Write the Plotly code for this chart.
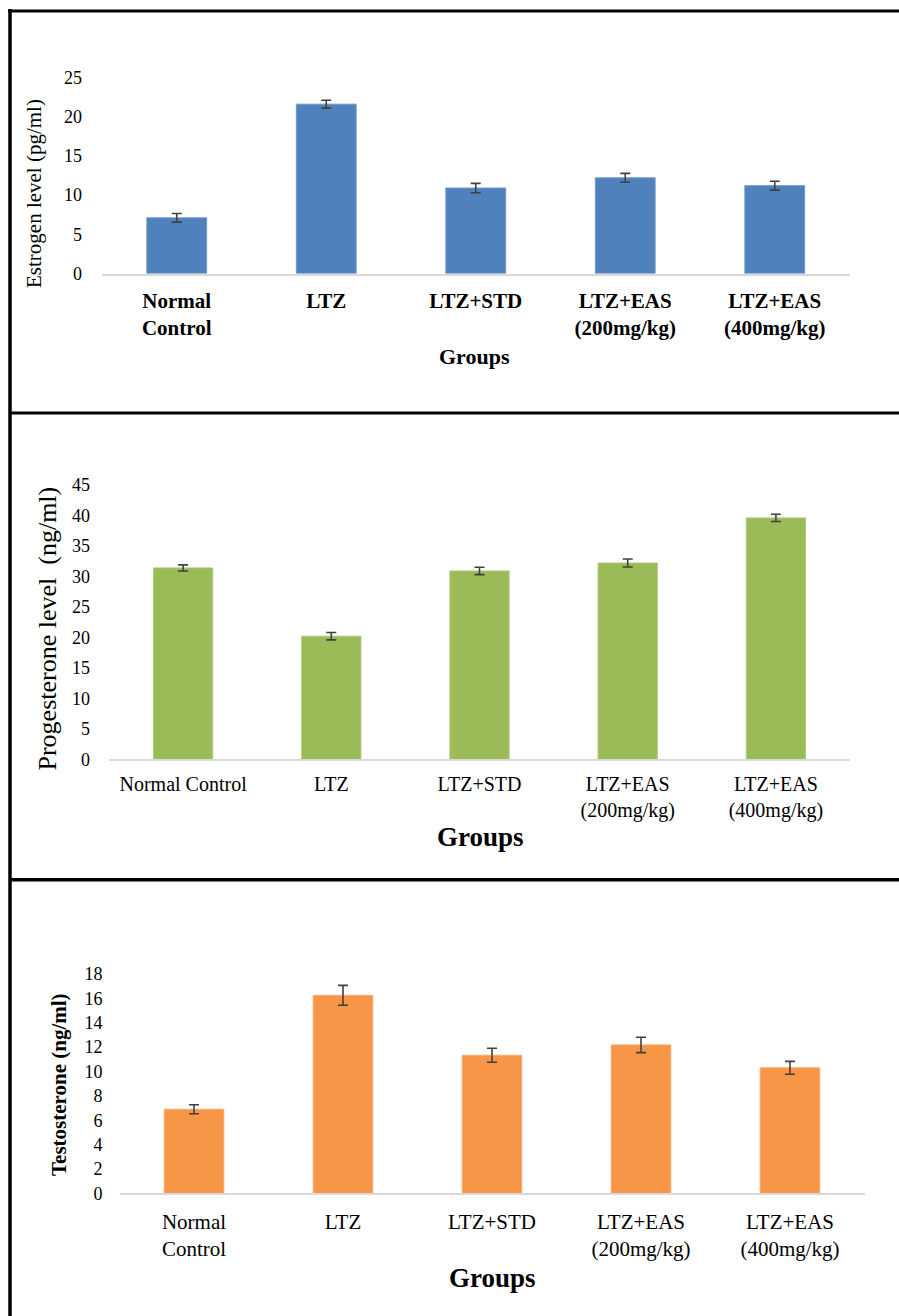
import plotly.graph_objects as go
from plotly.subplots import make_subplots

W, H = 899, 1316

groups_e = ["<b>Normal</b><br><b>Control</b>", "<b>LTZ</b>", "<b>LTZ+STD</b>",
            "<b>LTZ+EAS</b><br><b>(200mg/kg)</b>", "<b>LTZ+EAS</b><br><b>(400mg/kg)</b>"]
groups_p = ["Normal Control", "LTZ", "LTZ+STD", "LTZ+EAS<br>(200mg/kg)", "LTZ+EAS<br>(400mg/kg)"]
groups_t = ["Normal<br>Control", "LTZ", "LTZ+STD", "LTZ+EAS<br>(200mg/kg)", "LTZ+EAS<br>(400mg/kg)"]

estrogen = [7.1, 21.6, 10.9, 12.2, 11.2]
estrogen_err = [0.55, 0.5, 0.6, 0.57, 0.57]
progesterone = [31.4, 20.2, 30.9, 32.2, 39.6]
progesterone_err = [0.5, 0.6, 0.6, 0.65, 0.6]
testosterone = [6.9, 16.25, 11.33, 12.18, 10.3]
testosterone_err = [0.37, 0.82, 0.57, 0.63, 0.53]

FONT = "Liberation Serif"
ERRC = "#404040"

fig = make_subplots(rows=3, cols=1)

def add_bar(x, y, err, color, edge, row):
    fig.add_trace(go.Bar(
        x=x, y=y, width=0.4, marker=dict(color=color, line=dict(width=1, color=edge)),
        error_y=dict(type="data", array=err, visible=True, color=ERRC, thickness=1.6, width=5),
        showlegend=False), row=row, col=1)

add_bar(groups_e, estrogen, estrogen_err, "#4F81BD", "#6F97C9", 1)
add_bar(groups_p, progesterone, progesterone_err, "#9BBB59", "#AFC97A", 2)
add_bar(groups_t, testosterone, testosterone_err, "#F79646", "#F9AC6E", 3)

def px_dom(a, b, total):
    return [a / total, b / total]

def py_dom(top, bottom):
    return [1 - bottom / H, 1 - top / H]

xcommon = dict(type="category", range=[-0.5, 4.5], showgrid=False, zeroline=False,
               showline=True, linecolor="#D9D9D9", linewidth=2, ticks="", automargin=False)
ycommon = dict(showgrid=False, zeroline=False, showline=False, ticks="", automargin=False)

fig.update_layout(
    xaxis=dict(xcommon, domain=px_dom(102, 849.5, W),
               tickfont=dict(family=FONT, size=21, color="black"), ticklabelstandoff=7),
    yaxis=dict(ycommon, domain=py_dom(77.5, 273.5), range=[0, 25], dtick=5,
               tickfont=dict(family=FONT, size=18, color="black"), ticklabelstandoff=19),
    xaxis2=dict(xcommon, domain=px_dom(109, 850, W),
                tickfont=dict(family=FONT, size=20, color="black"), ticklabelstandoff=6),
    yaxis2=dict(ycommon, domain=py_dom(485, 759.3), range=[0, 45], dtick=5,
                tickfont=dict(family=FONT, size=18, color="black"), ticklabelstandoff=18),
    xaxis3=dict(xcommon, domain=px_dom(119.5, 864.5, W),
                tickfont=dict(family=FONT, size=21, color="black"), ticklabelstandoff=8),
    yaxis3=dict(ycommon, domain=py_dom(974, 1193.3), range=[0, 18], dtick=2,
                tickfont=dict(family=FONT, size=18, color="black"), ticklabelstandoff=16),
)

annotations = [
    dict(text="Estrogen level (pg/ml)", x=34 / W, y=1 - 194 / H, textangle=-90,
         font=dict(family=FONT, size=21, color="black")),
    dict(text="<b>Groups</b>", x=475 / W, y=1 - 356 / H,
         font=dict(family=FONT, size=22, color="black")),
    dict(text="Progesterone level\u00a0\u00a0(ng/ml)", x=47 / W, y=1 - 628.5 / H, textangle=-90,
         font=dict(family=FONT, size=26, color="black")),
    dict(text="<b>Groups</b>", x=480 / W, y=1 - 837 / H,
         font=dict(family=FONT, size=27, color="black")),
    dict(text="<b>Testosterone (ng/ml)</b>", x=59 / W, y=1 - 1085 / H, textangle=-90,
         font=dict(family=FONT, size=21, color="black")),
    dict(text="<b>Groups</b>", x=492.5 / W, y=1 - 1278 / H,
         font=dict(family=FONT, size=27, color="black")),
]
for a in annotations:
    a.update(xref="paper", yref="paper", showarrow=False, xanchor="center", yanchor="middle")

shapes = [
    dict(type="line", x0=10 / W, x1=10 / W, y0=1 - 9 / H, y1=0, line=dict(color="black", width=3.5)),
    dict(type="line", x0=8 / W, x1=1, y0=1 - 11 / H, y1=1 - 11 / H, line=dict(color="black", width=3)),
    dict(type="line", x0=10 / W, x1=1, y0=1 - 413 / H, y1=1 - 413 / H, line=dict(color="black", width=3)),
    dict(type="line", x0=10 / W, x1=1, y0=1 - 879.7 / H, y1=1 - 879.7 / H, line=dict(color="black", width=3.5)),
]
for s in shapes:
    s.update(xref="paper", yref="paper")

fig.update_layout(
    width=W, height=H, autosize=False,
    margin=dict(l=0, r=0, t=0, b=0, pad=0, autoexpand=False),
    paper_bgcolor="white", plot_bgcolor="white",
    annotations=annotations, shapes=shapes,
    bargap=0.6,
)

post = (
    "document.body.style.margin='0';document.body.style.padding='0';"
    "document.documentElement.style.margin='0';"
)

fig.write_html("out.html", config={"displayModeBar": False}, post_script=post)
